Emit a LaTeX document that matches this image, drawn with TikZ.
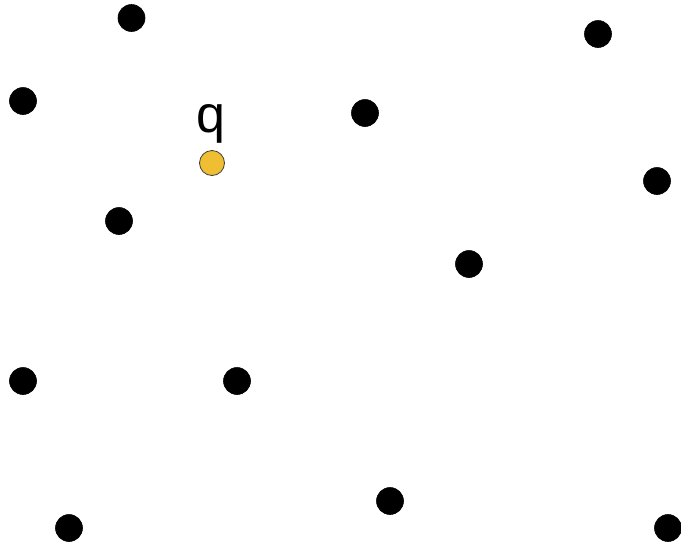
\documentclass[tikz,border=0pt]{standalone}
\usepackage{fontspec}
\setmainfont{Liberation Sans}
\definecolor{qyellow}{RGB}{240,190,50}
\definecolor{qedge}{RGB}{60,60,60}
\begin{document}
\begin{tikzpicture}[x=1pt,y=-1pt,
  pt/.style={circle,fill=black,draw=black,line width=0.6pt,minimum size=27pt,inner sep=0pt},
  qpt/.style={circle,fill=qyellow,draw=qedge,line width=0.8pt,minimum size=25pt,inner sep=0pt}]
\useasboundingbox (0,0) rectangle (681,547);
\node[pt] (p1) at (131.5,18) {};
\node[pt] (p2) at (598,34) {};
\node[pt] (p3) at (23,101) {};
\node[pt] (p4) at (365,113) {};
\node[pt] (p6) at (657,181) {};
\node[pt] (p7) at (119,221) {};
\node[pt] (p8) at (469,264) {};
\node[pt] (p9) at (23,381) {};
\node[pt] (p10) at (237,381) {};
\node[pt] (p11) at (390,501) {};
\node[pt] (p12) at (69,528) {};
\node[pt] (p13) at (668,528) {};
\node[qpt] (q) at (212,163) {};
\node[font=\fontsize{52}{60}\selectfont,inner sep=0pt,anchor=base] (ql) at (211,132) {q};
\end{tikzpicture}
\end{document}
